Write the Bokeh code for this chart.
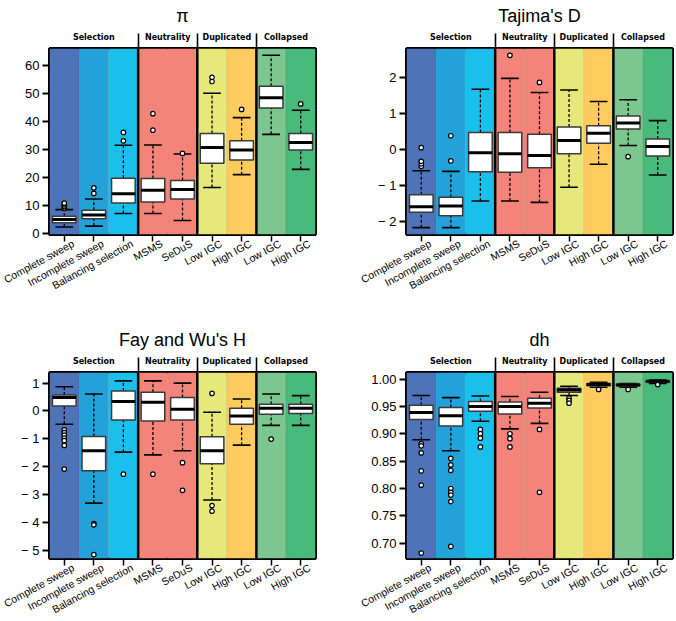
from bokeh.plotting import figure
from bokeh.layouts import column, row
from bokeh.models import FixedTicker, Range1d, Span, LinearAxis, NumeralTickFormatter
from bokeh.embed import file_html
from bokeh.resources import INLINE

categories = ["Complete sweep", "Incomplete sweep", "Balancing selection", "MSMS", "SeDuS",
              "Low IGC", "High IGC", "Low IGC", "High IGC"]
groups = ["Selection", "Neutrality", "Duplicated", "Collapsed"]
group_sizes = [3, 2, 2, 2]
band_colors = ["#4E73B9", "#22A2D9", "#1BBFEB", "#F4837A", "#F4837A",
               "#E7E87A", "#FECB5E", "#7CC68F", "#47BA7C"]

# pi
pi_lower = [2.3, 2.6, 7.1, 7.1, 4.6, 16.4, 21.0, 35.4, 22.9]
pi_q1 = [3.8, 5.2, 10.9, 11.2, 12.3, 25.1, 26.2, 44.8, 29.8]
pi_median = [5.0, 6.6, 14.2, 15.4, 15.7, 30.7, 29.8, 48.5, 32.5]
pi_q3 = [6.1, 8.3, 19.7, 19.6, 18.9, 35.7, 33.1, 52.6, 35.7]
pi_upper = [8.5, 12.3, 31.5, 31.6, 28.4, 50.1, 41.4, 63.7, 44.0]
pi_outliers = [[9.0, 9.6, 10.2, 10.8], [14.3, 16.3], [33.1, 36.1], [36.9, 42.8], [28.6],
               [54.3, 55.8], [44.3], [], [46.3]]
pi_ticks = [0, 10, 20, 30, 40, 50, 60]

# Tajima's D
td_lower = [-2.17, -2.17, -1.43, -1.43, -1.47, -1.05, -0.41, 0.11, -0.71]
td_q1 = [-1.74, -1.84, -0.62, -0.63, -0.51, -0.12, 0.17, 0.57, -0.18]
td_median = [-1.59, -1.57, -0.09, -0.12, -0.17, 0.25, 0.45, 0.73, 0.08]
td_q3 = [-1.26, -1.33, 0.47, 0.47, 0.42, 0.62, 0.66, 0.93, 0.29]
td_upper = [-0.59, -0.61, 1.67, 1.97, 1.58, 1.65, 1.33, 1.38, 0.80]
td_outliers = [[-0.47, -0.40, -0.33, 0.05], [-0.32, 0.38], [], [2.61], [1.86],
               [], [], [-0.20], []]
td_ticks = [-2, -1, 0, 1, 2]

# Fay and Wu's H
fw_lower = [-0.48, -3.31, -1.48, -1.58, -1.43, -3.20, -1.23, -0.52, -0.52]
fw_q1 = [0.18, -2.15, -0.33, -0.36, -0.33, -1.90, -0.48, -0.12, -0.09]
fw_median = [0.48, -1.43, 0.34, 0.31, 0.06, -1.43, -0.18, 0.10, 0.10]
fw_q3 = [0.57, -0.92, 0.72, 0.67, 0.48, -0.93, 0.10, 0.24, 0.24]
fw_upper = [0.87, 0.61, 1.08, 1.08, 1.00, -0.05, 0.43, 0.61, 0.55]
fw_outliers = [[-0.68, -0.78, -0.87, -0.98, -1.07, -1.24, -2.09], [-4.05, -4.09, -5.16],
               [-2.27], [-2.27], [-1.86, -2.85], [0.63, -3.40, -3.60], [], [-1.01], []]
fw_ticks = [-5, -4, -3, -2, -1, 0, 1]

# dh
dh_lower = [0.889, 0.869, 0.923, 0.909, 0.919, 0.970, 0.985, 0.985, 0.992]
dh_q1 = [0.926, 0.914, 0.941, 0.936, 0.947, 0.976, 0.988, 0.988, 0.994]
dh_median = [0.939, 0.933, 0.950, 0.950, 0.956, 0.980, 0.990, 0.989, 0.996]
dh_q3 = [0.952, 0.948, 0.959, 0.958, 0.965, 0.983, 0.992, 0.991, 0.997]
dh_upper = [0.970, 0.966, 0.969, 0.968, 0.976, 0.987, 0.994, 0.992, 0.998]
dh_outliers = [[0.882, 0.878, 0.865, 0.832, 0.806, 0.682],
               [0.855, 0.843, 0.833, 0.800, 0.793, 0.788, 0.776, 0.694],
               [0.908, 0.900, 0.892, 0.876], [0.900, 0.891, 0.876], [0.908, 0.793],
               [0.965, 0.961, 0.956], [0.981], [0.981], [0.990]]
dh_ticks = [0.70, 0.75, 0.80, 0.85, 0.90, 0.95, 1.00]

AX_FONT = "Liberation Sans"
LABEL_SHIFT = 0.3   # rotated label end sits slightly right of its tick (as in R)
LABEL_ANGLE = 0.5


def num_key(v):
    return int(v) if float(v).is_integer() else v


def make_panel(title, lower, q1, med, q3, upper, outliers, y_start, y_end, ticks,
               bl, br, bt, bb, fmt=None):
    n = len(categories)
    xs = list(range(1, n + 1))
    p = figure(frame_width=266, frame_height=186, x_range=Range1d(0.5, n + 0.5),
               y_range=Range1d(y_start, y_end), output_backend="svg",
               toolbar_location=None, x_axis_location=None, y_axis_location=None,
               min_border_left=bl, min_border_right=br, min_border_top=bt,
               min_border_bottom=bb)
    p.xgrid.visible = False
    p.ygrid.visible = False
    p.outline_line_color = "black"
    p.outline_line_width = 3
    p.background_fill_color = "white"
    p.border_fill_color = "white"

    p.title.text = title
    p.title.align = "center"
    p.title.text_font = AX_FONT
    p.title.text_font_size = "18px"
    p.title.text_font_style = "normal"
    p.title.text_color = "black"
    p.title.standoff = 7

    # background bands
    p.quad(left=[x - 0.5 for x in xs], right=[x + 0.5 for x in xs],
           bottom=[y_start] * n, top=[y_end] * n, fill_color=band_colors,
           line_color="black", line_alpha=0.06, line_width=1)

    # group separators
    bounds = []
    centers = []
    acc = 0
    for gs in group_sizes:
        centers.append(num_key(acc + (gs + 1) / 2))
        acc += gs
        if acc < n:
            bounds.append(acc + 0.5)
    for b in bounds:
        p.add_layout(Span(location=b, dimension="height", line_color="black",
                          line_width=2.5))

    # whiskers
    p.segment(x0=xs, y0=q3, x1=xs, y1=upper, line_color="black", line_width=1.3,
              line_dash="3 2")
    p.segment(x0=xs, y0=lower, x1=xs, y1=q1, line_color="black", line_width=1.3,
              line_dash="3 2")
    p.segment(x0=[x - 0.3 for x in xs], y0=upper, x1=[x + 0.3 for x in xs], y1=upper,
              line_color="black", line_width=1.6)
    p.segment(x0=[x - 0.3 for x in xs], y0=lower, x1=[x + 0.3 for x in xs], y1=lower,
              line_color="black", line_width=1.6)
    # boxes
    p.quad(left=[x - 0.4 for x in xs], right=[x + 0.4 for x in xs], bottom=q1, top=q3,
           fill_color="white", line_color="#3a3a3a", line_width=1.5)
    p.segment(x0=[x - 0.4 for x in xs], y0=med, x1=[x + 0.4 for x in xs], y1=med,
              line_color="black", line_width=3)
    # outliers
    ox, oy = [], []
    for x, vals in zip(xs, outliers):
        for v in vals:
            ox.append(x)
            oy.append(v)
    p.scatter(ox, oy, marker="circle", size=4.5, fill_color="white",
              line_color="black", line_width=1.2)

    # left axis
    yax = LinearAxis(ticker=FixedTicker(ticks=ticks))
    overrides = {}
    for t in ticks:
        if t < 0:
            overrides[num_key(t)] = "\u2212 " + str(abs(num_key(t)))
    if overrides:
        yax.major_label_overrides = overrides
    if fmt:
        yax.formatter = NumeralTickFormatter(format=fmt)
    yax.axis_line_color = None
    yax.major_tick_in = 0
    yax.major_tick_out = 7
    yax.major_tick_line_width = 1.8
    yax.minor_tick_line_color = None
    yax.major_label_text_font = AX_FONT
    yax.major_label_text_font_size = "13px"
    yax.major_label_text_color = "black"
    yax.major_label_standoff = 3
    p.add_layout(yax, "left")

    # bottom axis: tick marks are the minor ticks at the categories,
    # labels hang from slightly shifted major ticks
    label_pos = [round(x + LABEL_SHIFT, 2) for x in xs]
    xax = LinearAxis(ticker=FixedTicker(ticks=label_pos, minor_ticks=xs))
    xax.major_label_overrides = {lp: c for lp, c in zip(label_pos, categories)}
    xax.major_label_orientation = LABEL_ANGLE
    xax.axis_line_color = None
    xax.major_tick_line_color = None
    xax.major_tick_in = 0
    xax.major_tick_out = 0
    xax.minor_tick_in = 0
    xax.minor_tick_out = 7
    xax.minor_tick_line_width = 1.5
    xax.minor_tick_line_color = "black"
    xax.major_label_text_font = AX_FONT
    xax.major_label_text_font_size = "10.5px"
    xax.major_label_text_color = "black"
    xax.major_label_standoff = 1
    p.add_layout(xax, "below")

    # top group axis
    gax = LinearAxis(ticker=FixedTicker(ticks=centers, minor_ticks=bounds))
    gax.major_label_overrides = {c: g for c, g in zip(centers, groups)}
    gax.axis_line_color = None
    gax.major_tick_line_color = None
    gax.major_tick_in = 0
    gax.major_tick_out = 0
    gax.minor_tick_in = 0
    gax.minor_tick_out = 15
    gax.minor_tick_line_width = 1.6
    gax.minor_tick_line_color = "black"
    gax.major_label_text_font = "DejaVu Sans"
    gax.major_label_text_font_style = "bold"
    gax.major_label_text_font_size = "8px"
    gax.major_label_text_color = "black"
    gax.major_label_standoff = -8
    p.add_layout(gax, "above")
    return p


p1 = make_panel("\u03c0", pi_lower, pi_q1, pi_median, pi_q3, pi_upper, pi_outliers,
                -0.4, 66.1, pi_ticks, 49, 23, 48, 74)
p2 = make_panel("Tajima's D", td_lower, td_q1, td_median, td_q3, td_upper, td_outliers,
                -2.36, 2.80, td_ticks, 68, 2, 48, 74)
p3 = make_panel("Fay and Wu's H", fw_lower, fw_q1, fw_median, fw_q3, fw_upper, fw_outliers,
                -5.30, 1.38, fw_ticks, 49, 23, 64, 61)
p4 = make_panel("dh", dh_lower, dh_q1, dh_median, dh_q3, dh_upper, dh_outliers,
                0.672, 1.012, dh_ticks, 68, 2, 64, 61, fmt="0.00")

layout = column(row(p1, p2), row(p3, p4))
open("out.html", "w").write(file_html(layout, INLINE))
